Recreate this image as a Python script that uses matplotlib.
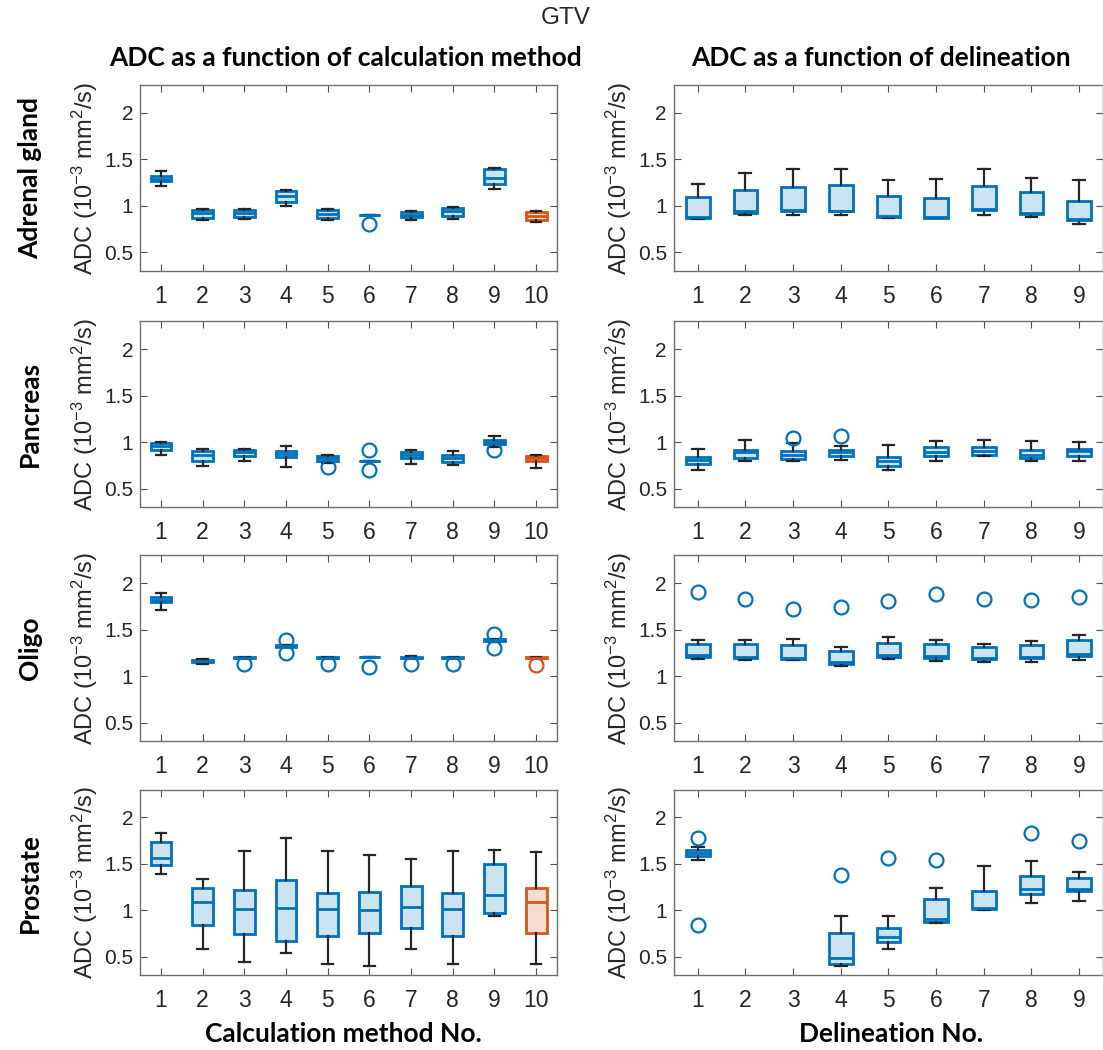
import matplotlib
matplotlib.use("Agg")
import matplotlib.pyplot as plt

# box stats per position: [whisker low, q1, median, q3, whisker high]; None = no data
adrenal_calc = [[1.21, 1.27, 1.29, 1.32, 1.37], [0.85, 0.87, 0.92, 0.955, 0.965],
                [0.86, 0.88, 0.92, 0.955, 0.965], [1.00, 1.04, 1.105, 1.16, 1.17],
                [0.85, 0.87, 0.915, 0.95, 0.965], [0.905, 0.905, 0.905, 0.905, 0.905],
                [0.85, 0.875, 0.905, 0.935, 0.94], [0.86, 0.89, 0.94, 0.975, 0.985],
                [1.18, 1.23, 1.30, 1.40, 1.41], [0.825, 0.85, 0.89, 0.93, 0.94]]
adrenal_calc_fliers = [[], [], [], [], [], [0.80], [], [], [], []]

adrenal_del = [[0.86, 0.87, 0.88, 1.09, 1.24], [0.90, 0.92, 0.94, 1.17, 1.35],
               [0.90, 0.94, 0.95, 1.20, 1.40], [0.90, 0.94, 0.945, 1.225, 1.40],
               [0.87, 0.88, 0.89, 1.11, 1.275], [0.87, 0.87, 0.88, 1.08, 1.29],
               [0.90, 0.96, 0.97, 1.21, 1.40], [0.885, 0.91, 0.925, 1.15, 1.30],
               [0.80, 0.85, 0.86, 1.05, 1.28]]
adrenal_del_fliers = [[] for _ in range(9)]

pancreas_calc = [[0.865, 0.92, 0.96, 0.994, 1.005], [0.745, 0.80, 0.86, 0.90, 0.925],
                 [0.80, 0.85, 0.89, 0.915, 0.925], [0.73, 0.835, 0.87, 0.905, 0.96],
                 [0.77, 0.80, 0.83, 0.85, 0.865], [0.795, 0.795, 0.795, 0.795, 0.795],
                 [0.76, 0.825, 0.86, 0.895, 0.91], [0.755, 0.785, 0.83, 0.86, 0.905],
                 [0.945, 0.98, 1.005, 1.025, 1.065], [0.725, 0.80, 0.83, 0.85, 0.86]]
pancreas_calc_fliers = [[], [], [], [], [0.73], [0.915, 0.70], [], [], [0.91], []]

pancreas_del = [[0.70, 0.76, 0.805, 0.845, 0.93], [0.80, 0.83, 0.89, 0.92, 1.02],
                [0.795, 0.82, 0.865, 0.90, 0.99], [0.805, 0.85, 0.895, 0.92, 0.955],
                [0.705, 0.745, 0.795, 0.845, 0.97], [0.80, 0.85, 0.895, 0.945, 1.01],
                [0.85, 0.86, 0.905, 0.945, 1.02], [0.80, 0.83, 0.865, 0.91, 1.015],
                [0.80, 0.85, 0.90, 0.93, 1.00]]
pancreas_del_fliers = [[], [], [1.04], [1.07], [], [], [], [], []]

oligo_calc = [[1.715, 1.795, 1.825, 1.85, 1.90], [1.13, 1.15, 1.165, 1.18, 1.19],
              [1.195, 1.195, 1.20, 1.205, 1.205], [1.32, 1.32, 1.33, 1.335, 1.335],
              [1.195, 1.195, 1.20, 1.205, 1.205], [1.21, 1.21, 1.21, 1.21, 1.21],
              [1.195, 1.195, 1.20, 1.205, 1.215], [1.195, 1.195, 1.20, 1.205, 1.205],
              [1.37, 1.38, 1.39, 1.40, 1.40], [1.195, 1.195, 1.20, 1.205, 1.205]]
oligo_calc_fliers = [[], [], [1.13], [1.39, 1.255], [1.13], [1.10], [1.13], [1.13],
                     [1.45, 1.30], [1.12]]

oligo_del = [[1.19, 1.21, 1.225, 1.35, 1.395], [1.18, 1.20, 1.21, 1.35, 1.395],
             [1.17, 1.19, 1.20, 1.335, 1.40], [1.11, 1.135, 1.15, 1.27, 1.31],
             [1.19, 1.21, 1.225, 1.355, 1.425], [1.165, 1.20, 1.22, 1.345, 1.39],
             [1.15, 1.185, 1.20, 1.315, 1.35], [1.15, 1.195, 1.21, 1.34, 1.38],
             [1.18, 1.22, 1.235, 1.39, 1.445]]
oligo_del_fliers = [[1.905], [1.83], [1.72], [1.75], [1.81], [1.88], [1.83], [1.82], [1.85]]

prostate_calc = [[1.39, 1.49, 1.56, 1.735, 1.835], [0.58, 0.84, 1.09, 1.24, 1.333],
                 [0.44, 0.75, 1.017, 1.22, 1.634], [0.54, 0.675, 1.024, 1.33, 1.78],
                 [0.425, 0.72, 1.013, 1.19, 1.634], [0.40, 0.755, 1.00, 1.20, 1.60],
                 [0.58, 0.81, 1.04, 1.26, 1.55], [0.425, 0.72, 1.013, 1.19, 1.634],
                 [0.94, 0.975, 1.17, 1.50, 1.65], [0.425, 0.76, 1.09, 1.245, 1.63]]
prostate_calc_fliers = [[] for _ in range(10)]

prostate_del = [[1.545, 1.59, 1.62, 1.65, 1.685], None, None,
                [0.40, 0.425, 0.485, 0.755, 0.94], [0.58, 0.655, 0.71, 0.81, 0.94],
                [0.865, 0.88, 0.91, 1.125, 1.24], [1.00, 1.013, 1.03, 1.21, 1.476],
                [1.075, 1.18, 1.225, 1.37, 1.537], [1.10, 1.21, 1.225, 1.345, 1.41]]
prostate_del_fliers = [[1.78, 0.84], [], [], [1.385], [1.56], [1.545], [], [1.83], [1.75]]

row_names = ["Adrenal gland", "Pancreas", "Oligo", "Prostate"]
calc_panels = [(adrenal_calc, adrenal_calc_fliers), (pancreas_calc, pancreas_calc_fliers),
               (oligo_calc, oligo_calc_fliers), (prostate_calc, prostate_calc_fliers)]
del_panels = [(adrenal_del, adrenal_del_fliers), (pancreas_del, pancreas_del_fliers),
              (oligo_del, oligo_del_fliers), (prostate_del, prostate_del_fliers)]

BLUE = "#0072BD"
BLUE_FILL = "#cce3f2"
ORANGE = "#D95319"
ORANGE_FILL = "#f7ddd1"
DARK = "#262626"

plt.rcParams["font.family"] = ["Liberation Sans", "DejaVu Sans"]
plt.rcParams["mathtext.fontset"] = "custom"
plt.rcParams["mathtext.rm"] = "Liberation Sans"
plt.rcParams["mathtext.it"] = "Liberation Sans:italic"

fig = plt.figure(figsize=(11.03, 10.5), dpi=100)

bottoms = [0.742, 0.517, 0.294, 0.071]
height = 0.177


def draw_panel(ax, boxes, fliers, highlight_last):
    stats, pos = [], []
    for i, b in enumerate(boxes):
        if b is None:
            continue
        stats.append(dict(whislo=b[0], q1=b[1], med=b[2], q3=b[3], whishi=b[4],
                          fliers=fliers[i]))
        pos.append(i + 1)
    art = ax.bxp(stats, positions=pos, widths=0.5, capwidths=0.25, patch_artist=True,
                 boxprops=dict(facecolor=BLUE_FILL, edgecolor=BLUE, linewidth=2),
                 medianprops=dict(color=BLUE, linewidth=2),
                 whiskerprops=dict(color=DARK, linewidth=1.6),
                 capprops=dict(color=DARK, linewidth=1.6),
                 flierprops=dict(marker="o", markerfacecolor="none", markeredgecolor=BLUE,
                                 markersize=10, markeredgewidth=1.6))
    if highlight_last:
        art["boxes"][-1].set_facecolor(ORANGE_FILL)
        art["boxes"][-1].set_edgecolor(ORANGE)
        art["medians"][-1].set_color(ORANGE)
        art["fliers"][-1].set_markeredgecolor(ORANGE)
    n = len(boxes)
    ax.set_xlim(0.5, n + 0.5)
    ax.set_ylim(0.3, 2.3)
    ax.set_xticks(range(1, n + 1))
    ax.set_xticklabels([str(k) for k in range(1, n + 1)])
    ax.set_yticks([0.5, 1, 1.5, 2])
    ax.set_yticklabels(["0.5", "1", "1.5", "2"])
    ax.tick_params(direction="in", top=True, right=True, length=5, width=0.8,
                   colors="#505050", labelcolor=DARK)
    ax.tick_params(axis="x", labelsize=16.5, pad=10)
    ax.tick_params(axis="y", labelsize=15, pad=5)
    for s in ax.spines.values():
        s.set_color("#707070")
        s.set_linewidth(1)
    ax.set_ylabel("ADC (10$^{-3}$ mm$^{2}$/s)", fontsize=17, color=DARK, labelpad=3)


for r in range(4):
    axl = fig.add_axes([0.127, bottoms[r], 0.378, height])
    draw_panel(axl, calc_panels[r][0], calc_panels[r][1], True)
    axr = fig.add_axes([0.611, bottoms[r], 0.389, height])
    draw_panel(axr, del_panels[r][0], del_panels[r][1], False)
    fig.text(0.027, bottoms[r] + height / 2, row_names[r], rotation=90, ha="center",
             va="center", fontsize=19, fontweight="bold", family="Lato")

fig.text(0.513, 0.983, "GTV", ha="center", va="center", fontsize=17.5, color=DARK)
fig.text(0.313, 0.945, "ADC as a function of calculation method", ha="center",
         va="center", fontsize=19, fontweight="bold", family="Lato")
fig.text(0.799, 0.945, "ADC as a function of delineation", ha="center",
         va="center", fontsize=19, fontweight="bold", family="Lato")
fig.text(0.311, 0.015, "Calculation method No.", ha="center", va="center",
         fontsize=19, fontweight="bold", family="Lato")
fig.text(0.808, 0.015, "Delineation No.", ha="center", va="center",
         fontsize=19, fontweight="bold", family="Lato")

fig.savefig("out.png", dpi=100, facecolor="white")
